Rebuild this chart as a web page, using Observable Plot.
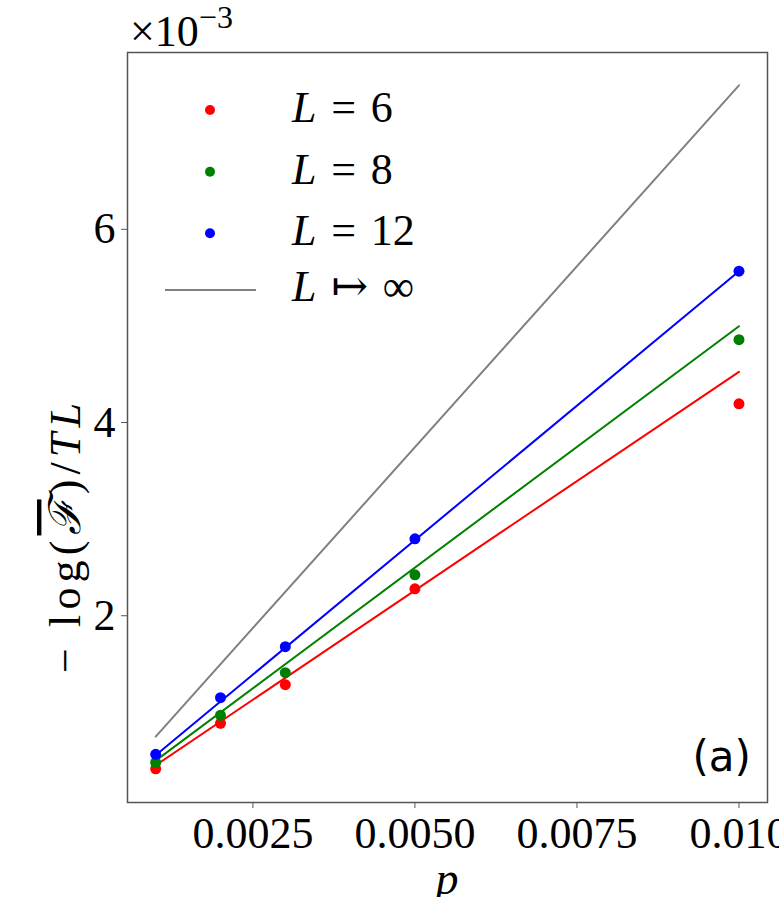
<!DOCTYPE html>
<html><head><meta charset="utf-8">
<script src="https://cdn.jsdelivr.net/npm/d3@7"></script>
<script src="https://cdn.jsdelivr.net/npm/@observablehq/plot@0.6"></script>
<style>body{margin:0;background:#fff}</style>
</head><body><div id="chart"></div>
<script>
// ---- data (values in units of 1e-3) ----
const pValues = [0.001, 0.002, 0.003, 0.005, 0.010];
const seriesNames = ["6", "8", "12"];
const valuesL6  = [0.416, 0.887, 1.287, 2.279, 4.194];
const valuesL8  = [0.481, 0.970, 1.411, 2.424, 4.858];
const valuesL12 = [0.566, 1.152, 1.680, 2.796, 5.566];
const fitP   = [0.001, 0.010];
const fitL6  = [0.452, 4.525];
const fitL8  = [0.500, 4.997];
const fitL12 = [0.557, 5.566];
const fitInf = [0.749, 7.490];
const seriesColors = ["#ff0000", "#008000", "#0000ff"];
const infColor = "#808080";
const xTicks = [0.0025, 0.005, 0.0075, 0.01];
const xTickLabels = ["0.0025", "0.0050", "0.0075", "0.010"];
const yTicks = [2, 4, 6];
const yTickLabels = ["2", "4", "6"];

// ---- build tables ----
const seriesValues = [valuesL6, valuesL8, valuesL12];
const seriesFits = [fitL6, fitL8, fitL12];
const points = [];
seriesValues.forEach((vals, s) => vals.forEach((v, i) =>
  points.push({p: pValues[i], v, color: seriesColors[s], s: seriesNames[s]})));
const lines = [];
seriesFits.forEach((vals, s) => vals.forEach((v, i) =>
  lines.push({p: fitP[i], v, color: seriesColors[s], s: seriesNames[s]})));
fitInf.forEach((v, i) => lines.push({p: fitP[i], v, color: infColor, s: "inf"}));

const serif = "'Liberation Serif', 'DejaVu Serif', serif";
const W = 779, H = 897;
const chart = Plot.plot({
  width: W, height: H,
  marginLeft: 127, marginRight: 12, marginTop: 52, marginBottom: 95,
  x: {domain: [0.000565, 0.01044]},
  y: {domain: [0.067, 7.83]},
  color: {type: "identity"},
  style: {fontFamily: serif, background: "white", overflow: "visible", color: "#000"},
  marks: [
    Plot.line(lines, {x: "p", y: "v", z: "s", stroke: "color", strokeWidth: 2}),
    Plot.dot(points, {x: "p", y: "v", fill: "color", r: 5.5}),
    Plot.frame({stroke: "#555", strokeWidth: 1.5}),
    Plot.axisX({ticks: xTicks, tickFormat: d => xTickLabels[xTicks.indexOf(d)],
      tickSize: 6, tickPadding: 8, fontSize: 44, label: null, stroke: "#555"}),
    Plot.axisY({ticks: yTicks, tickFormat: d => yTickLabels[yTicks.indexOf(d)],
      tickSize: 6, tickPadding: 6, fontSize: 44, label: null, stroke: "#555"})
  ]
});
document.getElementById("chart").appendChild(chart);

const svg = d3.select(chart);
// legend
const leg = svg.append("g").attr("font-family", serif).attr("font-size", 44)
  .attr("text-anchor", "start").style("white-space", "pre");
const rowY = [110, 171.7, 233.3];
seriesNames.forEach((n, i) => {
  leg.append("circle").attr("cx", 210).attr("cy", rowY[i]).attr("r", 5).attr("fill", seriesColors[i]);
  const t = leg.append("text").attr("x", 292).attr("y", rowY[i] + 12);
  t.append("tspan").attr("font-style", "italic").text("L");
  t.append("tspan").text("\u2004=\u2004" + n);
});
leg.append("line").attr("x1", 165).attr("x2", 256).attr("y1", 290).attr("y2", 290)
  .attr("stroke", infColor).attr("stroke-width", 2.2);
const ti = leg.append("text").attr("x", 292).attr("y", 301);
ti.append("tspan").attr("font-style", "italic").text("L");
ti.append("tspan").text("\u2004↦\u2004∞");

// y-axis multiplier
const mult = svg.append("text").attr("x", 130).attr("y", 46).attr("text-anchor", "start")
  .attr("font-family", serif).attr("font-size", 44);
mult.append("tspan").text("×10");
mult.append("tspan").attr("font-size", 32).attr("dy", -18).text("−3");

// y label
const yl = svg.append("text").attr("transform", "translate(80,673) rotate(-90)")
  .attr("text-anchor", "start").attr("font-family", serif).attr("font-size", 44)
  .style("white-space", "pre").attr("textLength", 270).attr("lengthAdjust", "spacing");
yl.append("tspan").text("− log(");
yl.append("tspan").attr("font-style", "italic").style("text-decoration", "overline").text("ℱ");
yl.append("tspan").text(")/");
yl.append("tspan").attr("font-style", "italic").text("TL");

// x label
svg.append("text").attr("x", 447).attr("y", 894).attr("text-anchor", "middle")
  .attr("font-family", serif).attr("font-style", "italic").attr("font-size", 46).text("p");

// panel tag
svg.append("text").attr("x", 751).attr("y", 771).attr("text-anchor", "end")
  .attr("font-family", "'DejaVu Sans', sans-serif").attr("font-size", 42).text("(a)");
svg.append("text").attr("x", 45).attr("y", -6).attr("text-anchor", "start")
  .attr("font-family", "'DejaVu Sans', sans-serif").attr("font-size", 42).text("(a)");
</script></body></html>
